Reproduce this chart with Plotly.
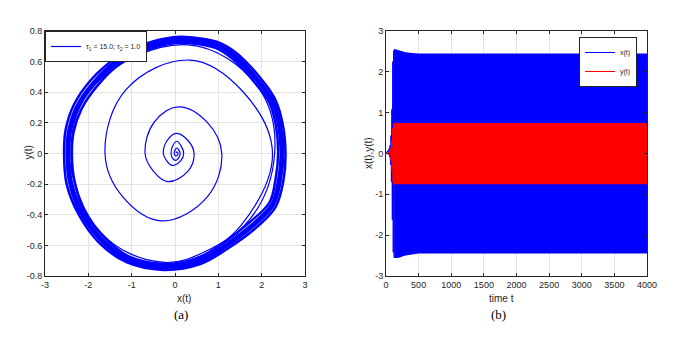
import plotly.graph_objects as go

# Phase portrait (a): transient spiral, read clockwise from the centre.
spiral_x = [0.02, 0.05, 0.07, 0.05, 0.02, -0.01, -0.02, 0.00, 0.04, 0.09, 0.12, 0.08,
            0.02, -0.06, -0.09, -0.06, 0.04, 0.14, 0.20, 0.13, -0.06, -0.19, -0.27,
            -0.18, 0.03, 0.30, 0.44, 0.30, -0.17, -0.50, -0.69, -0.48, 0.08, 0.74,
            1.08, 0.74, -0.30, -1.20, -1.615, -1.12, 0.35, 1.58, 2.25, 1.55, 0.77,
            -0.30, -1.70, -2.40, -1.85, 0.30, 1.90, 2.30, 1.60, -0.30, -1.75, -2.45]
spiral_y = [0.004, 0.010, 0.000, -0.012, -0.015, -0.008, 0.004, 0.022, 0.036, 0.022,
            0.000, -0.030, -0.045, -0.030, 0.000, 0.045, 0.080, 0.050, 0.000, -0.048,
            -0.077, -0.048, 0.000, 0.085, 0.132, 0.085, 0.000, -0.115, -0.184, -0.115,
            0.000, 0.205, 0.305, 0.205, 0.000, -0.285, -0.440, -0.285, 0.000, 0.420,
            0.610, 0.400, 0.000, -0.460, -0.630, -0.710, -0.520, 0.000, 0.450, 0.710,
            0.440, 0.000, -0.470, -0.730, -0.550, -0.030]

# Limit cycle: outer edge, inner edge and centre of the thick band.
outer_x = [0.35, 0.96, 1.40, 1.98, 2.30, 2.48, 2.55, 2.50, 2.32, 1.85, 1.22, 0.60, -0.27,
           -1.12, -1.76, -2.22, -2.50, -2.56, -2.52, -2.33, -1.94, -1.38, -0.75, -0.04,
           0.35]
outer_y = [0.76, 0.73, 0.66, 0.49, 0.36, 0.20, 0.00, -0.18, -0.35, -0.49, -0.62, -0.72,
           -0.76, -0.71, -0.58, -0.40, -0.20, 0.00, 0.16, 0.32, 0.48, 0.62, 0.71, 0.76,
           0.76]
inner_x = [0.35, 0.93, 1.32, 1.88, 2.18, 2.33, 2.38, 2.32, 2.18, 1.72, 1.14, 0.55, -0.27,
           -1.08, -1.66, -2.10, -2.32, -2.38, -2.34, -2.16, -1.80, -1.30, -0.70, -0.04,
           0.35]
inner_y = [0.72, 0.69, 0.62, 0.45, 0.33, 0.18, 0.00, -0.17, -0.32, -0.45, -0.58, -0.68,
           -0.72, -0.67, -0.54, -0.37, -0.18, 0.00, 0.14, 0.29, 0.44, 0.58, 0.67, 0.72,
           0.72]
mid_x = [0.35, 0.95, 1.36, 1.93, 2.24, 2.41, 2.47, 2.41, 2.25, 1.79, 1.18, 0.58, -0.27,
         -1.10, -1.71, -2.16, -2.41, -2.47, -2.43, -2.25, -1.87, -1.34, -0.73, -0.04, 0.35]
mid_y = [0.74, 0.71, 0.64, 0.47, 0.345, 0.19, 0.00, -0.175, -0.335, -0.47, -0.60, -0.70,
         -0.74, -0.69, -0.56, -0.385, -0.19, 0.00, 0.15, 0.305, 0.46, 0.60, 0.69, 0.74, 0.74]

# Time series (b): turning points of the start-up transient.
tx_turn = [0, 15, 27, 37, 46, 54, 62, 69, 76, 83, 90, 97, 104, 111, 118, 125, 132]
x_turn = [0.0, 0.03, 0.07, -0.02, 0.12, -0.09, 0.20, -0.27, 0.44, -0.69, 1.08, -1.62,
          2.25, -2.42, 2.52, -2.55, 2.56]
ty_turn = [0, 19, 32, 41, 50, 58, 65, 72, 79, 86, 93, 100, 107, 114, 121]
y_turn = [0.0, 0.014, -0.015, 0.036, -0.04, 0.08, -0.077, 0.132, -0.184, 0.305, -0.44,
          0.61, -0.70, 0.74, -0.75]

# Envelopes of the dense steady oscillation.
t_env_x = [132, 150, 200, 250, 300, 400, 500, 4000]
x_upper = [2.56, 2.55, 2.53, 2.50, 2.48, 2.46, 2.45, 2.45]
x_lower = [-2.56, -2.56, -2.55, -2.52, -2.50, -2.47, -2.45, -2.45]
t_env_y = [114, 4000]
y_upper = [0.75, 0.75]
y_lower = [-0.75, -0.75]

blue = '#0000ff'
red = '#ff0000'
font_name = 'Liberation Sans Narrow, Liberation Sans, Arial'
tick_font = dict(family=font_name, size=9, color='#262626')

# The page body adds an 8 px offset; positions below are reference pixels minus it.
W, H, OFF = 680, 341, 8


def px(p):
    return (p - OFF) / W


def py(p):
    return 1 - (p - OFF) / H


fig = go.Figure()

# (a) thick limit-cycle band, drawn as a few overlapping loops
for bx, by, w in [(outer_x, outer_y, 2.5), (inner_x, inner_y, 2.5), (mid_x, mid_y, 5)]:
    fig.add_trace(go.Scatter(x=bx, y=by, mode='lines',
                             line=dict(color=blue, width=w, shape='spline', smoothing=1.0),
                             showlegend=False, xaxis='x', yaxis='y'))
fig.add_trace(go.Scatter(x=spiral_x, y=spiral_y, mode='lines',
                         line=dict(color=blue, width=1.2, shape='spline', smoothing=1.1),
                         name='τ<sub>1</sub> = 15.0; τ<sub>2</sub> = 1.0',
                         xaxis='x', yaxis='y', legend='legend'))

# (b)
fig.add_trace(go.Scatter(x=t_env_x + t_env_x[::-1], y=x_upper + x_lower[::-1], fill='toself',
                         fillcolor=blue, line=dict(width=0), mode='lines', showlegend=False,
                         xaxis='x2', yaxis='y2'))
fig.add_trace(go.Scatter(x=tx_turn, y=x_turn, mode='lines', line=dict(color=blue, width=1),
                         name='x(t)', xaxis='x2', yaxis='y2', legend='legend2'))
fig.add_trace(go.Scatter(x=t_env_y + t_env_y[::-1], y=y_upper + y_lower[::-1], fill='toself',
                         fillcolor=red, line=dict(width=0), mode='lines', showlegend=False,
                         xaxis='x2', yaxis='y2'))
fig.add_trace(go.Scatter(x=ty_turn, y=y_turn, mode='lines', line=dict(color=red, width=1),
                         name='y(t)', xaxis='x2', yaxis='y2', legend='legend2'))

axis_style = dict(showline=True, linecolor='#262626', linewidth=1, mirror='ticks',
                  ticks='inside', ticklen=3, tickcolor='#262626', showgrid=True,
                  gridcolor='#e3e3e3', gridwidth=1, zeroline=False, tickfont=tick_font,
                  automargin=False)

ya_vals = [-0.8, -0.6, -0.4, -0.2, 0, 0.2, 0.4, 0.6, 0.8]
ya_text = ['-0.8', '-0.6', '-0.4', '-0.2', '0', '0.2', '0.4', '0.6', '0.8']
xa_vals = [-3, -2, -1, 0, 1, 2, 3]
xa_text = ['-3', '-2', '-1', '0', '1', '2', '3']
yb_vals = [-3, -2, -1, 0, 1, 2, 3]
yb_text = ['-3', '-2', '-1', '0', '1', '2', '3']

fig.update_layout(
    width=W, height=H,
    margin=dict(l=0, r=0, t=0, b=0, autoexpand=False),
    paper_bgcolor='white', plot_bgcolor='white',
    xaxis=dict(domain=[px(45), px(305)], range=[-3, 3], tickvals=xa_vals,
               ticktext=xa_text, anchor='y', **axis_style),
    yaxis=dict(domain=[py(276), py(31)], range=[-0.8, 0.8], tickvals=ya_vals,
               ticktext=ya_text, anchor='x', **axis_style),
    xaxis2=dict(domain=[px(386), px(647)], range=[0, 4000], dtick=500, anchor='y2',
                **axis_style),
    yaxis2=dict(domain=[py(276), py(31)], range=[-3, 3], tickvals=yb_vals,
                ticktext=yb_text, anchor='x2', **axis_style),
    legend=dict(x=px(45), y=py(31), xanchor='left', yanchor='top',
                bgcolor='white', bordercolor='#262626', borderwidth=1,
                font=dict(family=font_name, size=7, color='#262626'),
                itemwidth=30, tracegroupgap=0),
    legend2=dict(x=px(637), y=py(37), xanchor='right', yanchor='top',
                 bgcolor='white', bordercolor='#262626', borderwidth=1,
                 font=dict(family=font_name, size=7, color='#262626'),
                 itemwidth=30, tracegroupgap=0),
)

label_font = dict(family=font_name, size=10, color='#262626')
serif_font = dict(family='Liberation Serif, Times New Roman', size=13, color='black')
fig.add_annotation(x=px(175), y=py(306), xref='paper', yref='paper', text='x(t)',
                   showarrow=False, font=label_font)
fig.add_annotation(x=px(20), y=py(153), xref='paper', yref='paper', text='y(t)',
                   showarrow=False, font=label_font, textangle=-90)
fig.add_annotation(x=px(516), y=py(306), xref='paper', yref='paper', text='time t',
                   showarrow=False, font=label_font)
fig.add_annotation(x=px(368), y=py(153), xref='paper', yref='paper', text='x(t),y(t)',
                   showarrow=False, font=label_font, textangle=-90)
fig.add_annotation(x=px(172), y=py(324), xref='paper', yref='paper', text='(a)',
                   showarrow=False, font=serif_font)
fig.add_annotation(x=px(508), y=py(324), xref='paper', yref='paper', text='(b)',
                   showarrow=False, font=serif_font)

fig.write_html('out.html')
